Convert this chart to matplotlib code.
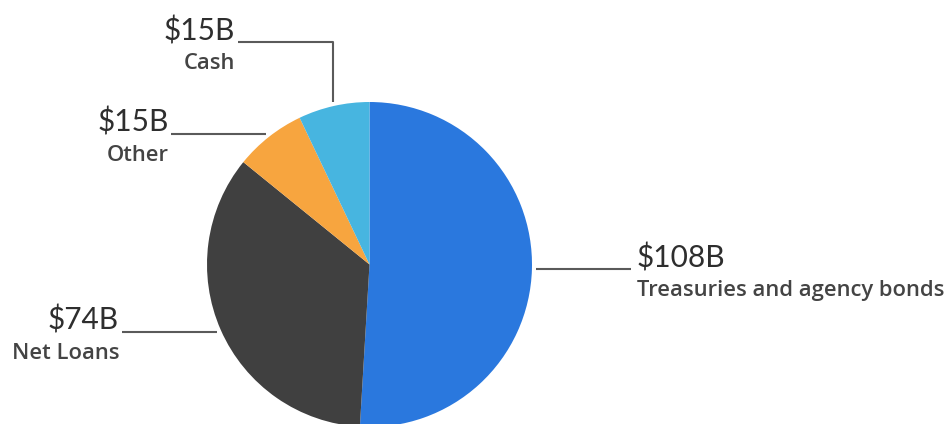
import numpy as np
import matplotlib
matplotlib.use('Agg')
import matplotlib.pyplot as plt

# Balance sheet asset mix, in billions of dollars
names = ['Treasuries and agency bonds', 'Net Loans', 'Other', 'Cash']
values = [108, 74, 15, 15]
value_labels = ['$108B', '$74B', '$15B', '$15B']
colors = ['#2a78de', '#404040', '#f7a53f', '#47b5e0']

W, H = 948, 424
plt.rcParams['font.family'] = ['Lato', 'DejaVu Sans']

fig = plt.figure(figsize=(W / 100, H / 100), dpi=100)
ax = fig.add_axes([0, 0, 1, 1])

cx, cy, r = 369.5, H - 264.5, 162.5
wedges, _ = ax.pie(values, colors=colors, startangle=90, counterclock=False,
                   center=(cx, cy), radius=r, frame=True,
                   wedgeprops=dict(linewidth=0))
ax.set_xlim(0, W)
ax.set_ylim(0, H)
ax.set_aspect('equal')
ax.axis('off')

line_col = '#5a5a5a'
val_col = '#2e2e2e'
name_col = '#444444'
arm = 95  # horizontal length of each leader

for w, v_lab, name in zip(wedges, value_labels, names):
    mid = np.deg2rad((w.theta1 + w.theta2) / 2)
    x0 = cx + 1.025 * r * np.cos(mid)
    y0 = cy + 1.025 * r * np.sin(mid)
    right = np.cos(mid) > 0
    pts = [(x0, y0)]
    if abs(np.cos(mid)) < 0.3:
        # slice near the top: go straight up first
        y0 = H - 42
        pts.append((x0, y0))
    x1 = x0 + arm if right else x0 - arm
    pts.append((x1, y0))
    xs, ys = zip(*pts)
    ax.plot(xs, ys, color=line_col, lw=1.5, solid_capstyle='butt', zorder=1)

    if right:
        tx, ha = x1 + 6, 'left'
    else:
        tx, ha = x1 - 3, 'right'
    ax.text(tx, y0 + 2, v_lab, ha=ha, va='baseline', fontsize=21.5,
            color=val_col)
    ax.text(tx, y0 - 11, name, ha=ha, va='top', fontsize=15.8,
            family=['Open Sans', 'DejaVu Sans'], fontweight='semibold',
            color=name_col)

fig.savefig('out.png', dpi=100, facecolor='white')
plt.close(fig)
